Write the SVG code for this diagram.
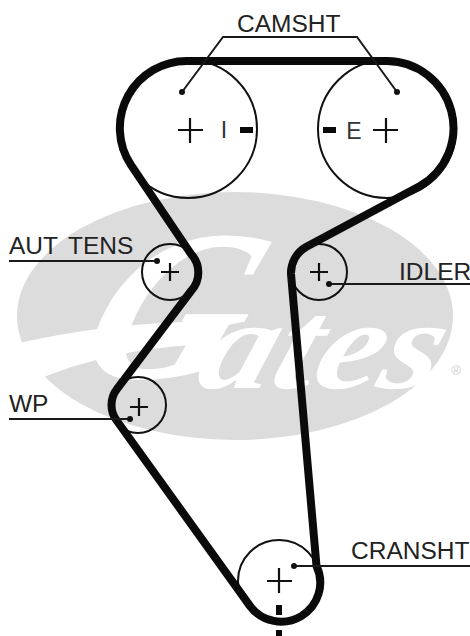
<svg xmlns="http://www.w3.org/2000/svg" width="470" height="636" viewBox="0 0 470 636">
<style>
.lbl{font-family:"Liberation Sans",Arial,sans-serif;font-size:24.5px;fill:#222}
.mark{font-family:"Liberation Sans",Arial,sans-serif;font-size:23px;fill:#333;text-anchor:middle}
.thin{fill:none;stroke:#1a1a1a;stroke-width:2}
.ring{fill:none;stroke:#111;stroke-width:2}
.plus{fill:none;stroke:#111;stroke-width:2.2}
.dot{fill:#111}
.bar{fill:#0a0a0a}
.belt{fill:none;stroke:#0a0a0a;stroke-width:8;stroke-linejoin:round}
.logo{font-family:"Liberation Serif",serif;font-style:italic;font-weight:bold;fill:#fff}
</style>
<rect width="470" height="636" fill="#fff"/>
<g id="logo">
<ellipse cx="235" cy="316" rx="218" ry="124" fill="#dcdcdc"/>
<path d="M10 345Q110 322 200 322L190 345Q90 352 10 392Z" fill="#fff"/>
<text class="logo" font-size="215" transform="translate(70 378) skewX(-22)">G</text>
<text class="logo" font-size="128" transform="translate(192 388) skewX(-18)" textLength="240" lengthAdjust="spacingAndGlyphs">ates</text>
<text x="456" y="375" text-anchor="middle" font-family="Liberation Sans, sans-serif" font-size="13" fill="#d0d0d0">®</text>
</g>
<g id="node-intake">
<circle class="ring" cx="188" cy="129" r="69"/>
<path class="plus" d="M178 130h25M190 118v25"/>
<text class="mark" x="224" y="138">I</text>
<rect class="bar" x="240" y="127" width="13" height="6"/>
</g>
<g id="node-exhaust">
<circle class="ring" cx="387" cy="129" r="69"/>
<path class="plus" d="M373 130h25M386 118v25"/>
<text class="mark" x="354" y="139">E</text>
<rect class="bar" x="323" y="127" width="13" height="6"/>
</g>
<g id="node-tensioner">
<circle class="ring" cx="170" cy="272" r="28"/>
<path class="plus" d="M161 272h18M170 263v18"/>
</g>
<g id="node-idler">
<circle class="ring" cx="319" cy="272" r="28"/>
<path class="plus" d="M310 272h18M319 263v18"/>
</g>
<g id="node-wp">
<circle class="ring" cx="138" cy="405" r="28"/>
<path class="plus" d="M130 407h18M139 398v18"/>
</g>
<g id="node-crank">
<circle class="ring" cx="279" cy="581" r="41"/>
<path class="plus" d="M267 581h25M279 568v25"/>
<rect class="bar" x="276" y="605" width="6" height="10"/>
<rect class="bar" x="276" y="630" width="6" height="6"/>
</g>
<g id="connectors">
<path class="belt" d="M188 61H387A67 67 0 0 1 420 186L306 247A30 30 0 0 0 291 274L316.500 566A39 39 0 0 1 250 606L117 421A26 26 0 0 1 117 389L191 291A27 27 0 0 0 191 254L131 165A67 67 0 0 1 188 61Z"/>
<path class="thin" d="M182 92L223 37H357L397 92"/>
<circle class="dot" cx="182" cy="92" r="3"/>
<circle class="dot" cx="397" cy="92" r="3"/>
<path class="thin" d="M9 261H157"/><circle class="dot" cx="157" cy="261" r="3"/>
<path class="thin" d="M329 284H470"/><circle class="dot" cx="329" cy="284" r="3"/>
<path class="thin" d="M9 419H130"/><circle class="dot" cx="130" cy="419" r="3"/>
<path class="thin" d="M294 566H470"/><circle class="dot" cx="294" cy="566" r="3"/>
</g>
<g id="labels">
<text class="lbl" x="237" y="32">CAMSHT</text>
<text class="lbl" x="9" y="254" word-spacing="4">AUT TENS</text>
<text class="lbl" x="399" y="280">IDLER</text>
<text class="lbl" x="9" y="412">WP</text>
<text class="lbl" x="351" y="559">CRANSHT</text>
</g>
</svg>
